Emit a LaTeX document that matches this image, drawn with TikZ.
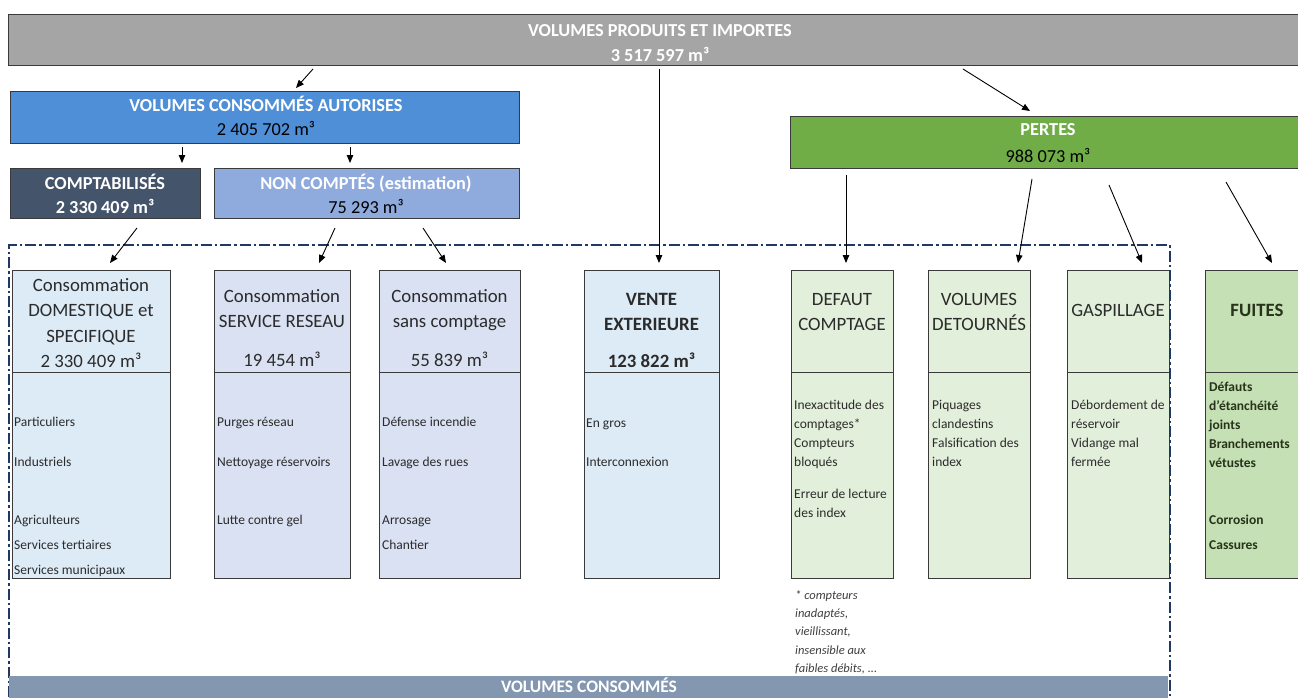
\documentclass[tikz,border=0pt]{standalone}
\usepackage{fontspec}
\setmainfont{Carlito}
\usetikzlibrary{arrows.meta}
\definecolor{grayF}{HTML}{A5A5A5}
\definecolor{blueF}{HTML}{4F8FD7}
\definecolor{compF}{HTML}{44546A}
\definecolor{noncF}{HTML}{8FAADC}
\definecolor{pertF}{HTML}{70AD47}
\definecolor{lblue}{HTML}{DDEBF7}
\definecolor{lav}{HTML}{D9E1F2}
\definecolor{lgreen}{HTML}{E2EFDA}
\definecolor{mgreen}{HTML}{C5E0B4}
\definecolor{barF}{HTML}{8497B0}
\definecolor{frameC}{HTML}{1F3864}
\definecolor{bordC}{HTML}{3A3A3A}
\definecolor{txtC}{HTML}{2B2B2B}
\definecolor{fuiC}{HTML}{27331A}
\begin{document}
\begin{tikzpicture}[x=1pt,y=-1pt,
  box/.style={draw=bordC, line width=0.9pt, inner sep=0pt, outer sep=0pt, anchor=north west},
  ttl/.style={inner sep=0pt, align=center, anchor=north, font=\fontsize{18.3}{24}\selectfont, text=black},
  hdr/.style={inner sep=0pt, align=center, anchor=north, font=\fontsize{18.8}{25.5}\selectfont, text=txtC},
  bdy/.style={inner sep=0pt, align=left, anchor=north west, font=\fontsize{13.5}{19}\selectfont, text=txtC},
  arr/.style={-{Triangle[length=8pt,width=6.5pt]}, line width=0.9pt, black},
  frm/.style={draw=frameC, line width=1.3pt, dash pattern=on 11pt off 3pt on 2.5pt off 3pt}
]
\useasboundingbox (0,0) rectangle (1298,697);
\fill[white] (0,0) rectangle (1298,697);

% top-level boxes
\node[box, fill=grayF, minimum width=1300pt, minimum height=51pt] (gray) at (8,14) {};
\node[box, fill=blueF, minimum width=509pt, minimum height=52pt] (blue) at (10,91) {};
\node[box, fill=compF, minimum width=190pt, minimum height=50pt] (comp) at (10,168) {};
\node[box, fill=noncF, minimum width=305pt, minimum height=50pt] (nonc) at (214,168) {};
\node[box, fill=pertF, minimum width=520pt, minimum height=52pt] (pertes) at (790,116) {};

\node[ttl, text=white] (tgray) at (660,19.2) {\strut\bfseries VOLUMES PRODUITS ET IMPORTES\\[1pt]\bfseries 3 517 597 m³};
\node[ttl] (tblue) at (266,94.2) {\strut\textcolor{white}{\bfseries VOLUMES CONSOMMÉS AUTORISES}\\2 405 702 m³};
\node[ttl, text=white] (tcomp) at (105,172.2) {\strut\bfseries COMPTABILISÉS\\\bfseries 2 330 409 m³};
\node[ttl] (tnonc) at (366,172.2) {\strut\textcolor{white}{\bfseries NON COMPTÉS (estimation)}\\75 293 m³};
\node[ttl] (tpertes) at (1048,118.2) {\strut\textcolor{white}{\bfseries PERTES}\\[3pt]988 073 m³};

% column boxes
\node[box, fill=lblue, minimum width=158pt, minimum height=308pt] (c1) at (12,270) {};
\node[box, fill=lav, minimum width=136pt, minimum height=308pt] (c2) at (214,270) {};
\node[box, fill=lav, minimum width=141pt, minimum height=308pt] (c3) at (379,270) {};
\node[box, fill=lblue, minimum width=135pt, minimum height=308pt] (vente) at (584,270) {};
\node[box, fill=lgreen, minimum width=102pt, minimum height=308pt] (defaut) at (791,270) {};
\node[box, fill=lgreen, minimum width=102pt, minimum height=308pt] (detour) at (928,270) {};
\node[box, fill=lgreen, minimum width=102pt, minimum height=308pt] (gasp) at (1067,270) {};
\node[box, fill=mgreen, minimum width=104pt, minimum height=308pt] (fuites) at (1205,270) {};

\foreach \b in {c1,c2,c3,vente,defaut,detour,gasp,fuites}{
  \draw[draw=bordC, line width=0.9pt] ([yshift=-102pt]\b.north west) -- ([yshift=-102pt]\b.north east);
}

% headers
\node[hdr] (h1) at (91,273.15) {\strut Consommation\\DOMESTIQUE et\\SPECIFIQUE\\2 330 409 m³};
\node[hdr] (h2) at (282,284.15) {\strut Consommation\\SERVICE RESEAU\\[13.5pt]19 454 m³};
\node[hdr] (h3) at (449.5,284.15) {\strut Consommation\\sans comptage\\[13.5pt]55 839 m³};
\node[hdr, font=\fontsize{18.8}{25.5}\selectfont\bfseries] (hv) at (651.5,287.15) {\strut VENTE\\EXTERIEURE\\[11.5pt]123 822 m³};
\node[hdr] (hd) at (842,287.15) {\strut DEFAUT\\COMPTAGE};
\node[hdr] (hdt) at (979,287.15) {\strut VOLUMES\\DETOURNÉS};
\node[hdr] (hg) at (1118,298.15) {\strut GASPILLAGE};
\node[hdr, font=\fontsize{18.8}{25.5}\selectfont\bfseries, text=fuiC] (hf) at (1257,298.15) {\strut FUITES};

% bodies
\node[bdy] (b1) at (14,413.2) {\strut Particuliers\\[21pt]Industriels\\[39pt]Agriculteurs\\[6pt]Services tertiaires\\[6pt]Services municipaux};
\node[bdy] (b2) at (217,413.2) {\strut Purges réseau\\[21pt]Nettoyage réservoirs\\[39pt]Lutte contre gel};
\node[bdy] (b3) at (382,413.2) {\strut Défense incendie\\[21pt]Lavage des rues\\[39pt]Arrosage\\[6pt]Chantier};
\node[bdy] (bv) at (586,414.2) {\strut En gros\\[20pt]Interconnexion};
\node[bdy] (bd) at (794,396.2) {\strut Inexactitude des\\comptages*\\Compteurs\\bloqués\\[13pt]Erreur de lecture\\des index};
\node[bdy] (bdt) at (932,396.2) {\strut Piquages\\clandestins\\Falsification des\\index};
\node[bdy] (bg) at (1071,396.2) {\strut Débordement de\\réservoir\\Vidange mal\\fermée};
\node[bdy, font=\fontsize{13.5}{19}\selectfont\bfseries, text=fuiC] (bf) at (1209,377.7) {\strut Défauts\\d'étanchéité\\joints\\Branchements\\vétustes\\[38pt]Corrosion\\[6pt]Cassures};

% footnote
\node[bdy, font=\fontsize{12.5}{18.3}\selectfont\itshape, text=black!75] (note) at (795,586.2) {\strut * compteurs\\inadaptés,\\vieillissant,\\insensible aux\\faibles débits, ...};

% frame and bottom bar
\draw[frm] (9,697) -- (9,245) -- (1170,245) -- (1170,697);
\node[box, draw=none, fill=barF, minimum width=1159pt, minimum height=24pt] (bar) at (9,676) {};
\node[inner sep=0pt, anchor=base, font=\fontsize{17.5}{24}\selectfont\bfseries, text=white] (tbar) at (589,692.5) {VOLUMES CONSOMMÉS};

% arrows
\draw[arr] ([xshift=305pt,yshift=-4pt]gray.south west) -- ([xshift=286pt,yshift=3pt]blue.north west);
\draw[arr] ([xshift=651pt,yshift=-4pt]gray.south west) -- ([xshift=75pt,yshift=7pt]vente.north west);
\draw[arr] ([xshift=955pt,yshift=-4pt]gray.south west) -- ([xshift=240pt,yshift=5pt]pertes.north west);
\draw[arr] ([xshift=172pt,yshift=-4pt]blue.south west) -- ([xshift=172pt,yshift=5pt]comp.north west);
\draw[arr] ([xshift=340pt,yshift=-4pt]blue.south west) -- ([xshift=136pt,yshift=5pt]nonc.north west);
\draw[arr] ([xshift=127pt,yshift=-10pt]comp.south west) -- ([xshift=98pt,yshift=7pt]c1.north west);
\draw[arr] ([xshift=121pt,yshift=-10pt]nonc.south west) -- ([xshift=105pt,yshift=7pt]c2.north west);
\draw[arr] ([xshift=209pt,yshift=-10pt]nonc.south west) -- ([xshift=67pt,yshift=7pt]c3.north west);
\draw[arr] ([xshift=56pt,yshift=-7pt]pertes.south west) -- ([xshift=55pt,yshift=7pt]defaut.north west);
\draw[arr] ([xshift=242pt,yshift=-11pt]pertes.south west) -- ([xshift=90pt,yshift=7pt]detour.north west);
\draw[arr] ([xshift=319pt,yshift=-17pt]pertes.south west) -- ([xshift=75pt,yshift=7pt]gasp.north west);
\draw[arr] ([xshift=436pt,yshift=-14pt]pertes.south west) -- ([xshift=67pt,yshift=7pt]fuites.north west);
\end{tikzpicture}
\end{document}
